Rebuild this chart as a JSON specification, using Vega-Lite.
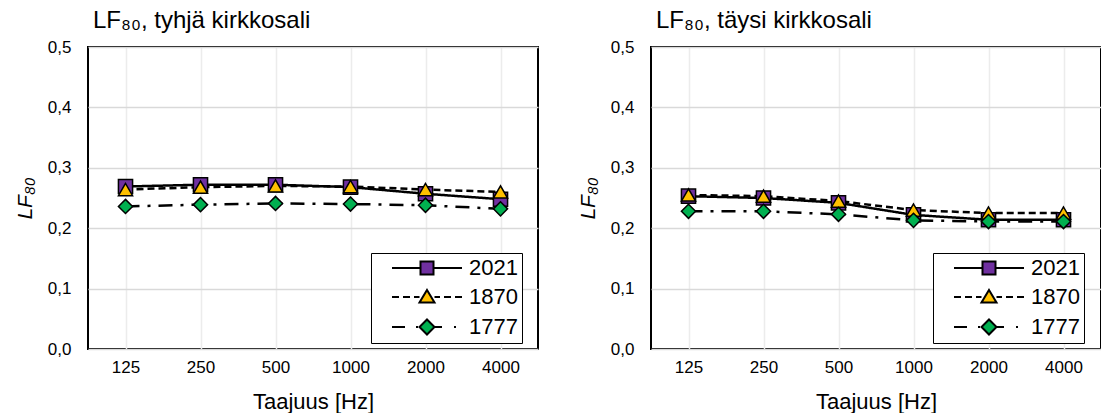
{
  "$schema": "https://vega.github.io/schema/vega-lite/v6.json",
  "padding": {"left": 13, "top": 8, "right": 0, "bottom": 0},
  "background": "white",
  "spacing": 37,
  "config": {
    "font": "Liberation Sans",
    "view": {"stroke": "black", "strokeWidth": 2},
    "axis": {
      "labelFont": "Liberation Sans",
      "titleFont": "Liberation Sans",
      "labelColor": "#000000",
      "titleColor": "#000000",
      "titleFontWeight": "normal",
      "domain": false,
      "ticks": false
    },
    "legend": {
      "title": null, "orient": "none", "legendY": 206,
      "strokeColor": "black", "fillColor": "white", "padding": 4,
      "rowPadding": 7, "symbolSize": 4, "symbolStrokeWidth": 2, "symbolStrokeColor": "black",
      "symbolOpacity": 1, "symbolOffset": 41, "labelOffset": 31,
      "labelFontSize": 22, "labelFont": "Liberation Sans", "labelColor": "#000000",
      "labelExpr": "datum.label + '   '"
    },
    "title": {"font": "Liberation Sans", "fontWeight": "normal", "color": "#000000", "fontSize": 24, "anchor": "start", "frame": "group", "offset": 5, "dx": 5}
  },
  "resolve": {
    "scale": {"strokeDash": "independent", "shape": "independent", "fill": "independent"},
    "legend": {"shape": "independent", "fill": "independent"}
  },
  "datasets": {
    "empty": [
      {"freq": "125", "series": "2021", "lf": 0.269},
      {"freq": "250", "series": "2021", "lf": 0.272},
      {"freq": "500", "series": "2021", "lf": 0.272},
      {"freq": "1000", "series": "2021", "lf": 0.268},
      {"freq": "2000", "series": "2021", "lf": 0.257},
      {"freq": "4000", "series": "2021", "lf": 0.248},
      {"freq": "125", "series": "1870", "lf": 0.264},
      {"freq": "250", "series": "1870", "lf": 0.268},
      {"freq": "500", "series": "1870", "lf": 0.270},
      {"freq": "1000", "series": "1870", "lf": 0.269},
      {"freq": "2000", "series": "1870", "lf": 0.264},
      {"freq": "4000", "series": "1870", "lf": 0.260},
      {"freq": "125", "series": "1777", "lf": 0.236},
      {"freq": "250", "series": "1777", "lf": 0.239},
      {"freq": "500", "series": "1777", "lf": 0.241},
      {"freq": "1000", "series": "1777", "lf": 0.240},
      {"freq": "2000", "series": "1777", "lf": 0.238},
      {"freq": "4000", "series": "1777", "lf": 0.232}
    ],
    "full": [
      {"freq": "125", "series": "2021", "lf": 0.253},
      {"freq": "250", "series": "2021", "lf": 0.250},
      {"freq": "500", "series": "2021", "lf": 0.242},
      {"freq": "1000", "series": "2021", "lf": 0.222},
      {"freq": "2000", "series": "2021", "lf": 0.214},
      {"freq": "4000", "series": "2021", "lf": 0.214},
      {"freq": "125", "series": "1870", "lf": 0.255},
      {"freq": "250", "series": "1870", "lf": 0.253},
      {"freq": "500", "series": "1870", "lf": 0.245},
      {"freq": "1000", "series": "1870", "lf": 0.230},
      {"freq": "2000", "series": "1870", "lf": 0.225},
      {"freq": "4000", "series": "1870", "lf": 0.225},
      {"freq": "125", "series": "1777", "lf": 0.228},
      {"freq": "250", "series": "1777", "lf": 0.228},
      {"freq": "500", "series": "1777", "lf": 0.223},
      {"freq": "1000", "series": "1777", "lf": 0.213},
      {"freq": "2000", "series": "1777", "lf": 0.211},
      {"freq": "4000", "series": "1777", "lf": 0.211}
    ]
  },
  "hconcat": [
    {
      "width": 450,
      "height": 302,
      "title": {"text": "LF₈₀, tyhjä kirkkosali"},
      "data": {"name": "empty"},
      "encoding": {
        "x": {"field": "freq", "type": "ordinal", "sort": null,
          "scale": {"type": "point", "domain": ["125", "250", "500", "1000", "2000", "4000"], "padding": 0.5},
          "axis": {"title": "Taajuus [Hz]", "titleFontSize": 22, "titlePadding": 16, "labelFontSize": 17, "labelPadding": 10, "labelAngle": 0, "grid": true, "gridColor": "#ececec", "gridWidth": 1.5}},
        "y": {"field": "lf", "type": "quantitative",
          "scale": {"domain": [0, 0.5], "nice": false, "zero": true},
          "axis": {"title": "LF₈₀", "titleFontSize": 21, "titleFontStyle": "italic", "titlePadding": 12, "labelFontSize": 17, "labelPadding": 17, "values": [0, 0.1, 0.2, 0.3, 0.4, 0.5], "labelExpr": "replace(format(datum.value, '.1f'), '.', ',')", "grid": true, "gridColor": "#d9d9d9", "gridWidth": 1.5}}
      },
      "resolve": {"scale": {"shape": "independent", "fill": "independent"}, "legend": {"shape": "independent", "fill": "independent"}},
      "layer": [
        {
          "mark": {"type": "line", "color": "black", "strokeWidth": 2.5},
          "encoding": {
            "strokeDash": {"field": "series", "type": "nominal",
              "scale": {"domain": ["2021", "1870", "1777"], "range": [[1, 0], [7, 4], [14, 8, 3, 8]]},
              "legend": null}
          }
        },
        {
          "mark": {"type": "point", "filled": true, "opacity": 1, "stroke": "black", "strokeWidth": 1.5, "size": 200},
          "encoding": {
            "shape": {"field": "series", "type": "nominal", "scale": {"domain": ["2021", "1870", "1777"], "range": ["square", "triangle-up", "diamond"]}, "legend": null},
            "fill": {"field": "series", "type": "nominal", "scale": {"domain": ["2021", "1870", "1777"], "range": ["#7030A0", "#FFC000", "#00B050"]}, "legend": null}
          }
        },
        {
          "mark": {"type": "point", "filled": true, "opacity": 0, "stroke": "black", "strokeWidth": 2, "size": 4},
          "encoding": {
            "shape": {"field": "series", "type": "nominal",
              "scale": {"domain": ["2021", "1870", "1777"], "range": [
                "M-35,0H-6.5M6.5,0H35M-6.5,-6.5H6.5V6.5H-6.5Z",
                "M-35,0H-28M-24,0H-17M-13,0H-7.5M7.5,0H13M17,0H24M28,0H35M0,-7L7.5,5.5H-7.5Z",
                "M-35,0H-22M-11,0H-9M7.5,0H15M27,0H29M0,-7.5L7.5,0L0,7.5L-7.5,0Z"]},
              "legend": {"legendX": 283, "encode": {"legend": {"strokeWidth": {"value": 1.5}}}}},
            "fill": {"field": "series", "type": "nominal", "scale": {"domain": ["2021", "1870", "1777"], "range": ["#7030A0", "#FFC000", "#00B050"]},
              "legend": {"legendX": 283, "encode": {"legend": {"strokeWidth": {"value": 1.5}}}}}
          }
        }
      ]
    },
    {
      "width": 450,
      "height": 302,
      "title": {"text": "LF₈₀, täysi kirkkosali"},
      "data": {"name": "full"},
      "encoding": {
        "x": {"field": "freq", "type": "ordinal", "sort": null,
          "scale": {"type": "point", "domain": ["125", "250", "500", "1000", "2000", "4000"], "padding": 0.5},
          "axis": {"title": "Taajuus [Hz]", "titleFontSize": 22, "titlePadding": 16, "labelFontSize": 17, "labelPadding": 10, "labelAngle": 0, "grid": true, "gridColor": "#ececec", "gridWidth": 1.5}},
        "y": {"field": "lf", "type": "quantitative",
          "scale": {"domain": [0, 0.5], "nice": false, "zero": true},
          "axis": {"title": "LF₈₀", "titleFontSize": 21, "titleFontStyle": "italic", "titlePadding": 12, "labelFontSize": 17, "labelPadding": 17, "values": [0, 0.1, 0.2, 0.3, 0.4, 0.5], "labelExpr": "replace(format(datum.value, '.1f'), '.', ',')", "grid": true, "gridColor": "#d9d9d9", "gridWidth": 1.5}}
      },
      "resolve": {"scale": {"shape": "independent", "fill": "independent"}, "legend": {"shape": "independent", "fill": "independent"}},
      "layer": [
        {
          "mark": {"type": "line", "color": "black", "strokeWidth": 2.5},
          "encoding": {
            "strokeDash": {"field": "series", "type": "nominal",
              "scale": {"domain": ["2021", "1870", "1777"], "range": [[1, 0], [7, 4], [14, 8, 3, 8]]},
              "legend": null}
          }
        },
        {
          "mark": {"type": "point", "filled": true, "opacity": 1, "stroke": "black", "strokeWidth": 1.5, "size": 200},
          "encoding": {
            "shape": {"field": "series", "type": "nominal", "scale": {"domain": ["2021", "1870", "1777"], "range": ["square", "triangle-up", "diamond"]}, "legend": null},
            "fill": {"field": "series", "type": "nominal", "scale": {"domain": ["2021", "1870", "1777"], "range": ["#7030A0", "#FFC000", "#00B050"]}, "legend": null}
          }
        },
        {
          "mark": {"type": "point", "filled": true, "opacity": 0, "stroke": "black", "strokeWidth": 2, "size": 4},
          "encoding": {
            "shape": {"field": "series", "type": "nominal",
              "scale": {"domain": ["2021", "1870", "1777"], "range": [
                "M-35,0H-6.5M6.5,0H35M-6.5,-6.5H6.5V6.5H-6.5Z",
                "M-35,0H-28M-24,0H-17M-13,0H-7.5M7.5,0H13M17,0H24M28,0H35M0,-7L7.5,5.5H-7.5Z",
                "M-35,0H-22M-11,0H-9M7.5,0H15M27,0H29M0,-7.5L7.5,0L0,7.5L-7.5,0Z"]},
              "legend": {"legendX": 282, "encode": {"legend": {"strokeWidth": {"value": 1.5}}}}},
            "fill": {"field": "series", "type": "nominal", "scale": {"domain": ["2021", "1870", "1777"], "range": ["#7030A0", "#FFC000", "#00B050"]},
              "legend": {"legendX": 282, "encode": {"legend": {"strokeWidth": {"value": 1.5}}}}}
          }
        }
      ]
    }
  ]
}
